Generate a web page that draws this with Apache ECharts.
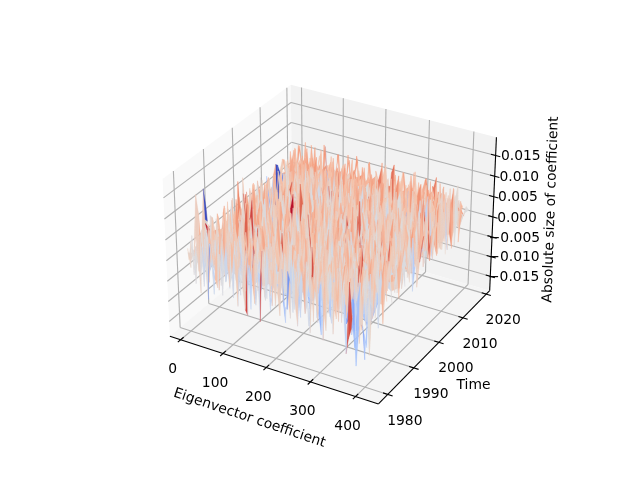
<!DOCTYPE html>
<html><head><meta charset="utf-8">
<script src="https://cdn.jsdelivr.net/npm/echarts@6/dist/echarts.min.js"></script>
<style>html,body{margin:0;padding:0;background:#fff}#c{width:640px;height:480px}</style>
</head><body><div id="c"></div>
<script>
const coefficients=[0,6,11,17,23,28,34,40,45,51,57,62,68,74,79,85,91,96,102,108,114,119,125,131,136,142,148,153,159,165,170,176,182,187,193,199,204,210,216,221,227,233,238,244,250,255,261,267,273,278,284,290,295,301,307,312,318,324,329,335,341,346,352,358,363,369,375,380,386,392,397,403];
const years=[1980,1982,1985,1987,1989,1992,1994,1996,1999,2001,2003,2006,2008,2010,2013,2015,2017,2020];
const xTicks=[0,100,200,300,400];
const yTicks=[1980,1990,2000,2010,2020];
const zTicks=[-0.015,-0.010,-0.005,0,0.005,0.010,0.015];
const zTickLabels=['−0.015','−0.010','−0.005','0.000','0.005','0.010','0.015'];
const xLim=[-26,450], yLim=[1976.5,2021.5], zLim=[-0.0187,0.0194];
// surface heights, front row (1980) first
const zRows=[
[12,-18,35,-42,8,-55,22,-10,-62,30,5,-25,-38,18,-48,10,40,-30,-12,25,-58,6,-22,-60,-68,15,-8,-45,28,-72,12,-28,38,-15,-40,20,-5,-52,24,-34,-38,16,44,-20,-60,8,30,-36,-14,-65,26,4,-44,18,-70,35,-24,10,-55,22,-32,42,-16,-80,-55,-38,-30,-95,-30,-25,-40,-60],
[-8,24,-30,16,-22,38,-44,12,-18,28,-52,6,30,-34,14,-26,-6,36,-48,20,2,-40,26,-16,32,-58,10,34,-24,-4,42,-36,18,-50,8,28,-20,40,-30,-62,22,4,-42,30,-12,-46,14,36,-56,24,-8,44,-28,-64,10,32,-18,-40,26,-2,46,-34,12,-58,34,-22,-68,8,38,-30,-82,18],
[30,90,62,-14,22,-36,48,-8,26,-42,18,36,-22,4,-46,30,12,-28,40,-16,-34,24,8,46,-20,-38,28,-6,34,-44,16,-12,38,-24,6,44,-32,20,-10,30,-48,14,-26,42,2,-36,24,-14,34,-50,10,28,-18,40,-42,20,-4,36,-30,14,48,-22,6,-44,-62,26,-12,32,-38,18,-26,42],
[-20,40,38,-28,46,-12,24,-34,6,52,-18,30,-6,44,-26,14,-40,34,-2,22,-30,48,-16,10,36,-24,44,-8,18,-36,28,4,-20,50,-14,32,-38,12,24,-44,38,-10,20,-28,46,-4,30,-16,40,-34,8,26,-24,52,-12,16,-40,34,-6,28,-18,44,-30,10,38,-22,18,-46,30,4,-52,24],
[14,-26,30,-10,40,8,-18,48,-32,20,2,36,-14,26,-38,42,74,-22,12,34,-8,-30,46,18,-20,6,38,-26,28,-4,44,-16,10,-34,30,22,-12,40,-28,8,48,-20,16,34,-36,24,-2,42,-18,12,30,-30,6,46,-10,22,-26,38,14,-42,28,2,36,-20,18,44,-14,24,-32,10,40,-16],
[-6,34,-20,18,50,-14,28,4,-30,66,12,-24,38,-8,22,46,-18,6,-34,32,16,-26,42,-4,24,-16,52,8,-28,36,14,-40,26,-10,44,2,-22,34,18,-32,48,-6,28,-18,10,40,-26,20,-12,36,4,-38,30,16,-8,46,-24,12,34,-14,24,-36,42,6,-20,30,-28,14,50,-10,22,-30],
[24,-10,44,-26,12,32,-4,20,-36,42,6,-18,28,-30,16,48,-12,36,2,-24,40,10,-16,30,-34,22,46,-6,14,-28,38,8,-20,52,-14,26,-32,18,40,-8,30,-22,12,46,-28,6,34,-16,24,-40,44,10,-12,28,-26,18,36,-4,48,-20,8,32,-34,22,14,-18,42,-8,30,-24,12,38],
[-14,28,6,-22,72,18,-32,40,10,-8,34,-26,22,48,-16,12,-28,44,4,-20,30,16,-36,38,-6,24,-14,50,-30,18,8,42,-24,32,-10,20,46,-18,6,36,-32,26,-2,14,44,-22,10,38,-12,28,-36,20,48,-6,16,-28,34,8,-18,40,22,-10,30,-26,12,46,-4,20,-34,36,6,-20],
[18,-24,36,8,-12,44,22,-30,66,2,-16,40,14,-34,28,6,-22,38,-10,48,18,-26,12,34,-4,42,-20,10,30,-36,24,-8,46,16,-28,4,36,-14,26,-38,20,44,-6,12,32,-24,40,2,72,-18,14,30,-30,22,6,44,-12,36,-26,18,-2,28,10,-32,42,-16,24,6,-20,38,-8,16],
[6,30,-18,42,-28,14,34,-8,24,-32,46,10,-20,26,-12,38,4,-26,20,44,-14,30,-34,8,72,40,-22,18,-6,32,12,-30,48,-16,22,2,-24,36,-10,28,42,-36,14,6,-18,34,-28,46,-4,16,26,-20,38,8,-32,24,-12,44,10,-26,30,18,-14,36,-22,6,40,-30,20,-50,-8,28],
[-22,14,40,-6,26,-34,18,48,-14,8,30,-26,42,-2,22,-30,36,12,-18,28,6,46,-24,14,-10,34,-38,20,44,-8,26,-20,10,38,-28,16,32,-4,-12,24,46,-30,8,36,-16,20,-26,42,12,-34,28,-6,18,40,-22,10,32,-14,24,48,-28,6,36,-18,14,-32,26,44,-10,20,2,34],
[10,-30,22,36,-14,6,44,-24,16,32,-8,-18,26,40,-32,12,48,-10,28,-22,34,4,-16,42,18,-28,30,-4,14,46,-20,8,36,-34,24,-12,40,16,-26,6,32,-8,44,-20,12,28,-36,18,38,-14,4,26,-24,46,-6,34,-18,10,42,-30,22,-2,30,14,-22,38,8,-16,72,-26,12,36],
[28,-12,6,34,-26,42,12,-20,30,-4,46,-32,18,8,-16,38,-28,24,2,44,-10,20,-30,34,14,-18,40,-6,26,-24,10,48,-14,32,-36,18,6,42,-22,28,-8,14,36,-30,46,-12,22,4,-20,40,-34,16,30,-6,24,-26,44,8,-14,34,-28,18,6,38,-18,26,-4,42,-24,14,30,-8],
[-16,-75,-70,18,4,30,-34,42,-8,22,14,-28,36,6,-20,46,-12,26,-30,16,34,-4,-38,24,40,-14,8,32,-26,44,2,-18,28,12,-32,36,-6,20,48,-22,10,-16,30,42,-28,6,24,-10,38,-20,14,32,-34,46,-2,18,26,-12,40,-24,8,48,-30,32,58,-44,20,-16,-34,52,-22,38],
[20,40,40,28,12,-6,14,-18,36,8,-26,44,-6,24,-14,34,-22,12,40,-30,6,28,-10,46,-18,16,32,-36,22,-4,38,10,-24,30,-12,42,18,-28,8,36,-16,26,44,-20,14,-8,34,2,-30,24,40,-14,-35,30,-26,46,-6,12,-20,38,26,-46,40,-18,-30,56,-36,30,48,-24,38,-30],
[-10,32,16,-24,30,34,24,-12,8,44,-30,18,34,-2,-22,26,10,-34,40,14,-16,30,-26,6,42,-8,20,-28,36,12,-18,46,4,-32,22,30,-10,16,-24,38,6,-14,28,44,-26,10,20,-6,36,-34,24,8,-18,42,-12,30,-28,14,2,-34,60,-24,36,-46,22,54,-32,40,-14,-36,48,12,26],
[28,-6,46,14,52,-14,22,44,-2,58,12,-20,30,48,-10,62,-26,18,40,-6,54,4,34,-22,24,50,-14,20,60,-24,14,36,-4,52,6,-16,44,24,-28,40,58,2,20,-12,46,-20,30,54,-4,12,42,-24,60,16,-8,34,50,4,-14,44,22,-22,52,-8,36,-30,48,-24,30,56,-36,26],
[20,40,-2,50,26,2,58,-8,34,14,54,-4,42,-14,62,20,0,46,-10,28,52,4,38,-6,56,16,-12,30,48,-2,42,22,-8,54,12,-16,36,18,58,0,30,-6,46,60,2,24,-14,50,14,34,-4,56,-10,42,16,6,52,28,-2,40,58,-8,22,46,2,34,-20,48,10,-12,30,18]
];
// colour readings for single facets [column, row, value]; these differ from height
const facetColours=[[0,1,8],[1,1,8],[1,2,-75],[4,8,70],[1,8,62],[18,9,75],[17,9,60],[1,13,-75],[2,13,-75],[48,8,62],[47,8,55],[15,4,62],[9,5,60],[44,2,60],[23,0,62],[29,0,64],[68,11,55],[70,9,60],[40,0,-50],[8,0,-50],[52,14,-36],[15,16,-32],[63,0,60],[64,0,60],[66,0,-30],[67,0,-30],[33,6,60],[56,5,58],[26,12,58],[38,10,60],[60,3,58],[12,11,56],[62,13,56],[22,15,55],[30,3,56],[6,5,58],[64,6,58],[20,2,60],[54,9,56],[36,14,54]];
const paneLeft='#f9f9f9', paneBack='#f2f2f2', paneFloor='#f5f5f5', gridColor='#b0b0b0';
const zScale=zv=>zv*1.5e-4;
const ribbonDepth=0.15, underShrink=0.4;

const elev=30*Math.PI/180, azim=-60*Math.PI/180, dist=10;
const n=1.8294640721620434/Math.sqrt(41), box=[4*n,4*n,3*n], R=box.map(v=>v/2);
const w=[Math.cos(elev)*Math.cos(azim),Math.cos(elev)*Math.sin(azim),Math.sin(elev)];
const cross=(a,b)=>[a[1]*b[2]-a[2]*b[1],a[2]*b[0]-a[0]*b[2],a[0]*b[1]-a[1]*b[0]];
const norm=a=>{const l=Math.hypot(...a);return a.map(v=>v/l)};
const dot=(a,b)=>a[0]*b[0]+a[1]*b[1]+a[2]*b[2];
const u=norm(cross([0,0,1],w)), v=cross(w,u);
function view(x,y,z){
  const p=[(x-xLim[0])/(xLim[1]-xLim[0])*box[0]-R[0],(y-yLim[0])/(yLim[1]-yLim[0])*box[1]-R[1],(z-zLim[0])/(zLim[1]-zLim[0])*box[2]-R[2]];
  return [dot(u,p),dot(v,p),dot(w,p)];
}
const scale=369.6/0.185*1.047, cx=332.6, cy=237;
function project(x,y,z){
  const q=view(x,y,z), d=dist-q[2];
  return [cx+q[0]/d*scale, cy-q[1]/d*scale];
}
const colourMap=new Map(facetColours.map(f=>[f[0]+'_'+f[1],f[2]<0?f[2]*1.87e-4:f[2]*1.6e-4]));
const under=[], ribbons=[];
for(let j=0;j<zRows.length-1;j++){
  for(let i=0;i<coefficients.length-1;i++){
    const zc=[zRows[j][i],zRows[j][i+1],zRows[j+1][i+1],zRows[j+1][i]].map(zScale);
    const near=(zc[0]+zc[1])/2, far=(zc[2]+zc[3])/2;
    const key=i+'_'+j;
    const val=colourMap.has(key)?colourMap.get(key):far;
    const xa=coefficients[i],xb=coefficients[i+1],ya=years[j],yb=years[j+1],ym=ya+(yb-ya)*ribbonDepth;
    const rp=[[xa,ya,zc[0]],[xb,ya,zc[1]],[xb,ym,zc[2]],[xa,ym,zc[3]]];
    const up=[[xa,ya,zc[0]*underShrink],[xb,ya,zc[1]*underShrink],[xb,yb,zc[2]*underShrink],[xa,yb,zc[3]*underShrink]];
    const dep=ps=>ps.reduce((s,p)=>s+view(p[0],p[1],p[2])[2],0)/4;
    under.push({value:[i,j,near],pts:up,depth:dep(up)});
    ribbons.push({value:[i,j,val],pts:rp,depth:dep(rp)});
  }
}
under.sort((a,b)=>a.depth-b.depth);
ribbons.sort((a,b)=>a.depth-b.depth);

const [x0,x1]=xLim,[y0,y1]=yLim,[z0,z1]=zLim;
const panes=[
 {c:paneLeft,p:[[x0,y0,z0],[x0,y1,z0],[x0,y1,z1],[x0,y0,z1]]},
 {c:paneBack,p:[[x0,y1,z0],[x1,y1,z0],[x1,y1,z1],[x0,y1,z1]]},
 {c:paneFloor,p:[[x0,y0,z0],[x1,y0,z0],[x1,y1,z0],[x0,y1,z0]]}
];
const lines=[];
xTicks.forEach(t=>{lines.push({c:gridColor,p:[[t,y0,z0],[t,y1,z0]]},{c:gridColor,p:[[t,y1,z0],[t,y1,z1]]});
  const d=(y1-y0)*0.022;lines.push({c:'#000',p:[[t,y0+d,z0],[t,y0-d,z0]]});});
yTicks.forEach(t=>{lines.push({c:gridColor,p:[[x1,t,z0],[x0,t,z0]]},{c:gridColor,p:[[x0,t,z0],[x0,t,z1]]});
  const d=(x1-x0)*0.022;lines.push({c:'#000',p:[[x1-d,t,z0],[x1+d,t,z0]]});});
zTicks.forEach(t=>{lines.push({c:gridColor,p:[[x0,y0,t],[x0,y1,t]]},{c:gridColor,p:[[x0,y1,t],[x1,y1,t]]});
  const d=(x1-x0)*0.022;lines.push({c:'#000',p:[[x1-d,y1,t],[x1+d,y1,t]]});});
lines.push({c:'#000',p:[[x0,y0,z0],[x1,y0,z0]]},{c:'#000',p:[[x1,y0,z0],[x1,y1,z0]]},{c:'#000',p:[[x1,y1,z0],[x1,y1,z1]]});

const zLabelDx=[49,48.5,48,44,44,44.5,45];
const texts=[];
xTicks.forEach(t=>texts.push({s:String(t),p:[t,y0,z0],dx:-8,dy:30,a:'center',r:0}));
yTicks.forEach(t=>texts.push({s:String(t),p:[x1,t,z0],dx:17,dy:26.5,a:'center',r:0}));
zTicks.forEach((t,k)=>texts.push({s:zTickLabels[k],p:[x1,y1,t],dx:zLabelDx[k],dy:1,a:'right',r:0}));
texts.push({s:'Eigenvector coefficient',p:[(x0+x1)/2,y0,z0],dx:-22,dy:49,a:'center',r:-18.5*Math.PI/180});
texts.push({s:'Time',p:[x1,(y0+y1)/2,z0],dx:37,dy:41,a:'center',r:0});
texts.push({s:'Absolute size of coefficient',p:[x1,y1,(z0+z1)/2],dx:58,dy:-6,a:'center',r:88*Math.PI/180});

const pt=(api,p)=>api.coord(project(p[0],p[1],p[2]));
const base={type:'custom',coordinateSystem:'cartesian2d',silent:true,animation:false,clip:false,progressive:0,encode:{x:0,y:1}};
const facetItem=list=>(p,api)=>{const f=list[p.dataIndex],col=api.visual('color');
  return {type:'polygon',shape:{points:f.pts.map(q=>pt(api,q))},style:{fill:col,stroke:col,lineWidth:0.3}}};
const chart=echarts.init(document.getElementById('c'),null,{renderer:'canvas'});
chart.setOption({
  animation:false,backgroundColor:'#fff',
  grid:{left:0,right:0,top:0,bottom:0},
  xAxis:{type:'value',min:0,max:640,show:false},
  yAxis:{type:'value',min:0,max:480,inverse:true,show:false},
  visualMap:{show:false,type:'continuous',seriesIndex:[2,3],dimension:2,min:-0.014,max:0.0125,
    inRange:{color:['#3b4cc0','#6282ea','#8db0fe','#b9d0f9','#dddcdc','#f5c4ac','#f49a7b','#d95847','#b40426']}},
  series:[
   Object.assign({},base,{z:1,data:panes.map((_,i)=>[i,i]),renderItem:(p,api)=>{const o=panes[api.value(0)];
     return {type:'polygon',shape:{points:o.p.map(q=>pt(api,q))},style:{fill:o.c}}}}),
   Object.assign({},base,{z:2,data:lines.map((_,i)=>[i,i]),renderItem:(p,api)=>{const o=lines[api.value(0)],a=pt(api,o.p[0]),b=pt(api,o.p[1]);
     return {type:'line',shape:{x1:a[0],y1:a[1],x2:b[0],y2:b[1]},style:{stroke:o.c,lineWidth:1.1}}}}),
   Object.assign({},base,{z:3,data:under.map(f=>f.value),renderItem:facetItem(under)}),
   Object.assign({},base,{z:4,data:ribbons.map(f=>f.value),renderItem:facetItem(ribbons)}),
   Object.assign({},base,{z:5,data:texts.map((_,i)=>[i,i]),renderItem:(p,api)=>{const o=texts[api.value(0)],a=pt(api,o.p);
     return {type:'text',x:a[0]+o.dx,y:a[1]+o.dy,rotation:o.r,style:{text:o.s,fill:'#000',font:'13.89px "DejaVu Sans"',textAlign:o.a,textVerticalAlign:'middle'}}}})
  ]
});
</script></body></html>
